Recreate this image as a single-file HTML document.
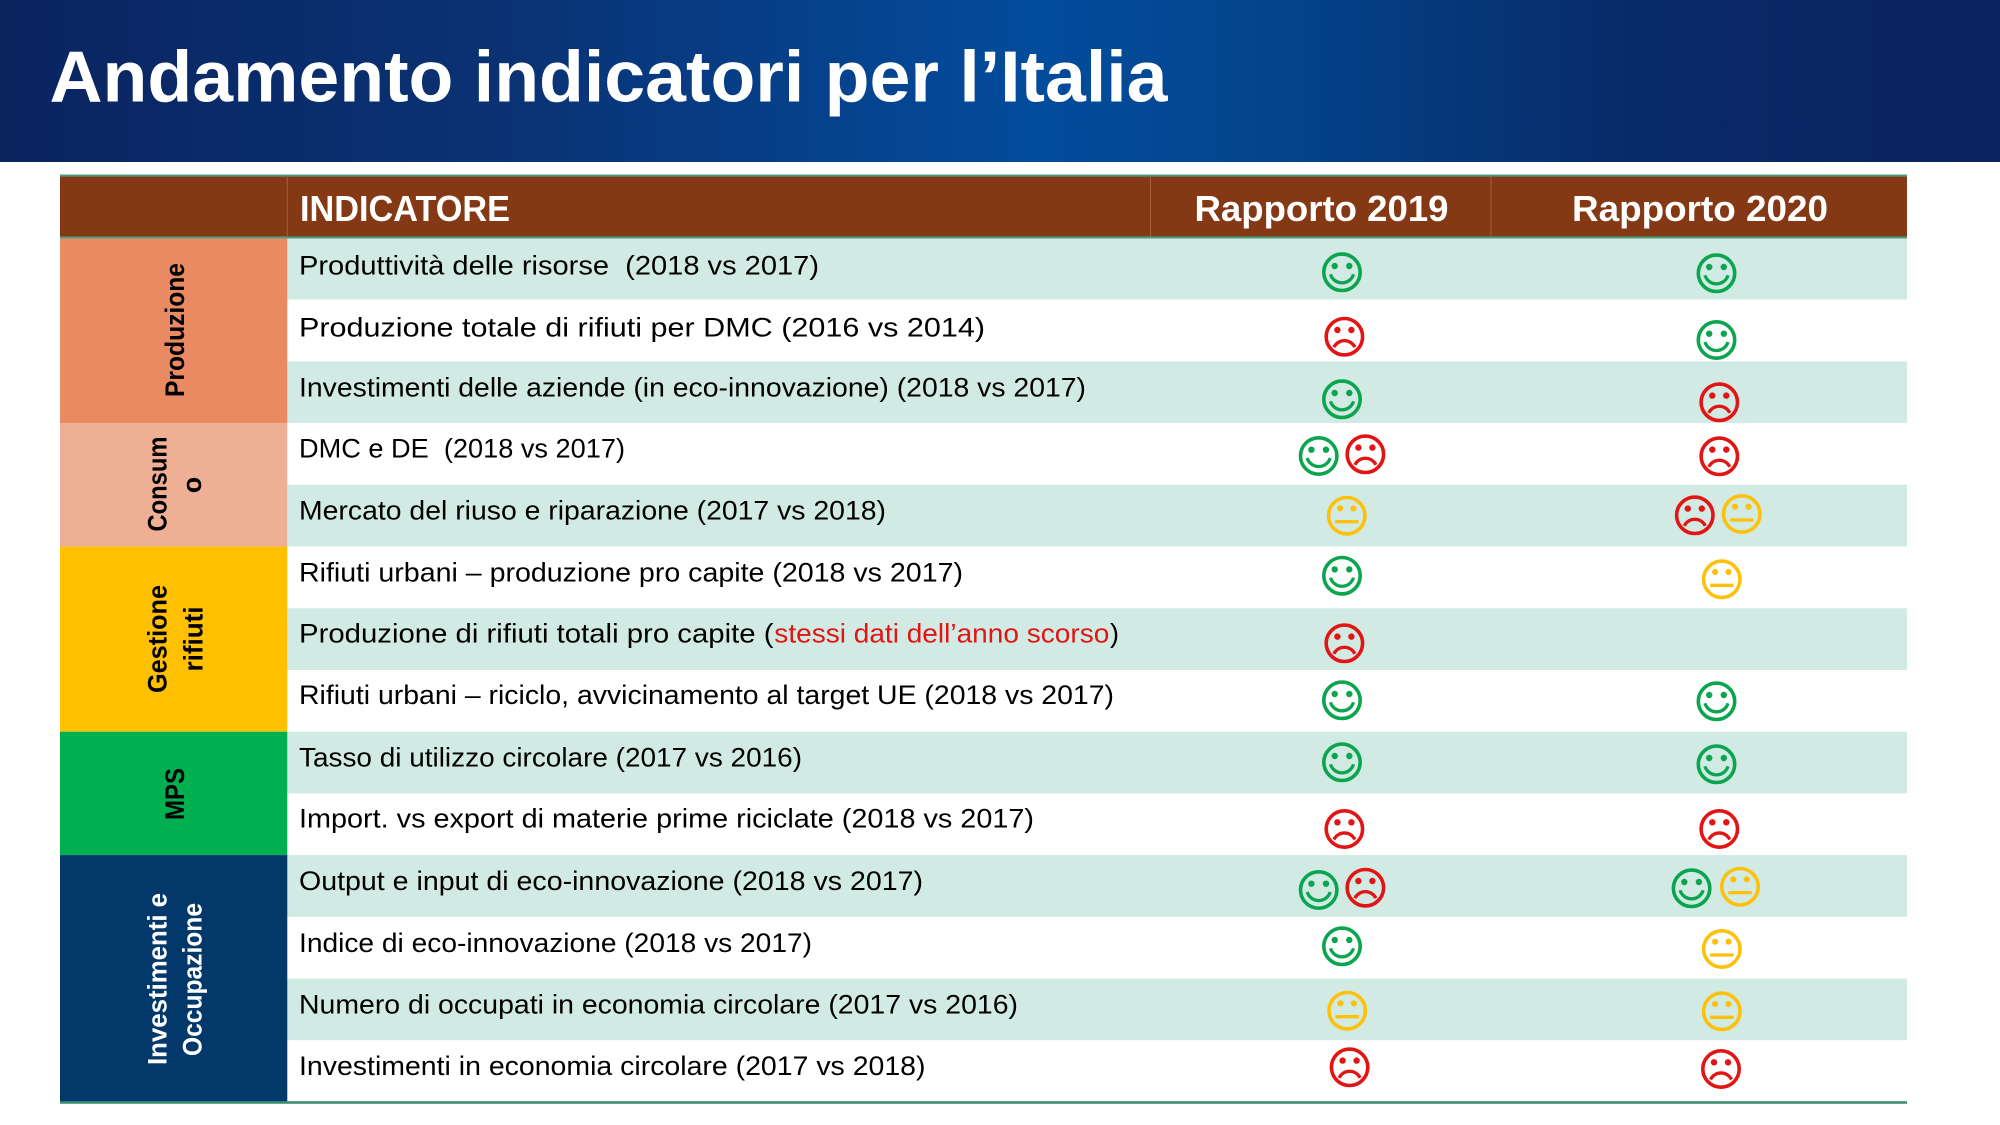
<!DOCTYPE html>
<html>
<head>
<meta charset="utf-8">
<style>
  html, body { margin: 0; padding: 0; background: #ffffff; }
  svg { display: block; }
  text { font-family: "Liberation Sans", sans-serif; white-space: pre; }
</style>
</head>
<body>
<svg width="2000" height="1125" viewBox="0 0 2000 1125" xmlns="http://www.w3.org/2000/svg">
  <defs>
    <linearGradient id="hdr" x1="0" y1="0" x2="1" y2="0">
      <stop offset="0" stop-color="#0a2460"/>
      <stop offset="0.25" stop-color="#0a3273"/>
      <stop offset="0.52" stop-color="#034c9c"/>
      <stop offset="0.62" stop-color="#03468f"/>
      <stop offset="0.82" stop-color="#082a67"/>
      <stop offset="1" stop-color="#0b2360"/>
    </linearGradient>
    <g id="happy">
      <circle cx="0" cy="0" r="18.2" fill="none" stroke="#0BA550" stroke-width="3.6"/>
      <circle cx="-7.3" cy="-6.3" r="3.2" fill="#0BA550"/>
      <circle cx="7.3" cy="-6.3" r="3.2" fill="#0BA550"/>
      <path d="M-11.5 2 A12 12 0 0 0 11.5 2" fill="none" stroke="#0BA550" stroke-width="3.3"/>
    </g>
    <g id="sad">
      <circle cx="0" cy="0" r="18.2" fill="none" stroke="#E31414" stroke-width="3.6"/>
      <circle cx="-7" cy="-6.7" r="3.2" fill="#E31414"/>
      <circle cx="7" cy="-6.7" r="3.2" fill="#E31414"/>
      <path d="M-10.5 10.5 A11.7 11.7 0 0 1 10.5 10.5" fill="none" stroke="#E31414" stroke-width="3.3"/>
    </g>
    <g id="neutral">
      <circle cx="0" cy="0" r="18.2" fill="none" stroke="#FDC10C" stroke-width="3.6"/>
      <circle cx="-6.7" cy="-7.3" r="3.1" fill="#FDC10C"/>
      <circle cx="6.7" cy="-7.3" r="3.1" fill="#FDC10C"/>
      <line x1="-11.7" y1="6" x2="11.7" y2="6" stroke="#FDC10C" stroke-width="3.3"/>
    </g>
  </defs>

  <!-- Title band -->
  <rect x="0" y="0" width="2000" height="162" fill="url(#hdr)"/>
  <text x="49.5" y="101.7" font-size="72" font-weight="bold" fill="#ffffff" textLength="1118" lengthAdjust="spacingAndGlyphs">Andamento indicatori per l’Italia</text>

  <!-- Table header -->
  <rect x="60" y="175" width="1847" height="63" fill="#843814"/>
  <rect x="60" y="174.5" width="1847" height="2.2" fill="#4f9a7c"/>
  <rect x="60" y="236.4" width="1847" height="2.2" fill="#4f9a7c"/>
  <line x1="287.3" y1="177" x2="287.3" y2="236.4" stroke="#a55e3e" stroke-width="1"/>
  <line x1="1150.5" y1="177" x2="1150.5" y2="236.4" stroke="#a55e3e" stroke-width="1"/>
  <line x1="1491" y1="177" x2="1491" y2="236.4" stroke="#a55e3e" stroke-width="1"/>
  <text x="300" y="221" font-size="36" font-weight="bold" fill="#ffffff" textLength="210" lengthAdjust="spacingAndGlyphs">INDICATORE</text>
  <text x="1194.5" y="221" font-size="36" font-weight="bold" fill="#ffffff" textLength="254" lengthAdjust="spacingAndGlyphs">Rapporto 2019</text>
  <text x="1572" y="221" font-size="36" font-weight="bold" fill="#ffffff" textLength="256" lengthAdjust="spacingAndGlyphs">Rapporto 2020</text>

  <!-- Row backgrounds -->
  <rect x="287.3" y="238.6" width="1619.7" height="61.1" fill="#D1EBE4"/>
  <rect x="287.3" y="299.7" width="1619.7" height="61.7" fill="#ffffff"/>
  <rect x="287.3" y="361.4" width="1619.7" height="61.7" fill="#D1EBE4"/>
  <rect x="287.3" y="423.1" width="1619.7" height="61.7" fill="#ffffff"/>
  <rect x="287.3" y="484.8" width="1619.7" height="61.8" fill="#D1EBE4"/>
  <rect x="287.3" y="546.6" width="1619.7" height="61.7" fill="#ffffff"/>
  <rect x="287.3" y="608.3" width="1619.7" height="61.7" fill="#D1EBE4"/>
  <rect x="287.3" y="670.0" width="1619.7" height="61.7" fill="#ffffff"/>
  <rect x="287.3" y="731.7" width="1619.7" height="61.7" fill="#D1EBE4"/>
  <rect x="287.3" y="793.4" width="1619.7" height="61.7" fill="#ffffff"/>
  <rect x="287.3" y="855.1" width="1619.7" height="61.8" fill="#D1EBE4"/>
  <rect x="287.3" y="916.9" width="1619.7" height="61.7" fill="#ffffff"/>
  <rect x="287.3" y="978.6" width="1619.7" height="61.7" fill="#D1EBE4"/>
  <rect x="287.3" y="1040.3" width="1619.7" height="61.9" fill="#ffffff"/>

  <!-- Category cells -->
  <rect x="60" y="238.6" width="227.3" height="184.5" fill="#E98A62"/>
  <rect x="60" y="423.1" width="227.3" height="123.5" fill="#EFAF94"/>
  <rect x="60" y="546.6" width="227.3" height="185.1" fill="#FFC000"/>
  <rect x="60" y="731.7" width="227.3" height="123.4" fill="#00B050"/>
  <rect x="60" y="855.1" width="227.3" height="247.1" fill="#03386A"/>

  <!-- Bottom line -->
  <rect x="60" y="1101.2" width="1847" height="2.6" fill="#3f8f75"/>

  <!-- Category labels (rotated) -->
  <text transform="translate(184,330) rotate(-90)" text-anchor="middle" font-size="27" font-weight="bold" fill="#000000" textLength="134" lengthAdjust="spacingAndGlyphs">Produzione</text>
  <text transform="translate(166.7,484) rotate(-90)" text-anchor="middle" font-size="27" font-weight="bold" fill="#000000" textLength="95" lengthAdjust="spacingAndGlyphs">Consum</text>
  <text transform="translate(201,485) rotate(-90)" text-anchor="middle" font-size="27" font-weight="bold" fill="#000000">o</text>
  <text transform="translate(166.7,639) rotate(-90)" text-anchor="middle" font-size="27" font-weight="bold" fill="#000000" textLength="108" lengthAdjust="spacingAndGlyphs">Gestione</text>
  <text transform="translate(202.5,639) rotate(-90)" text-anchor="middle" font-size="27" font-weight="bold" fill="#000000" textLength="65" lengthAdjust="spacingAndGlyphs">rifiuti</text>
  <text transform="translate(184,794) rotate(-90)" text-anchor="middle" font-size="27" font-weight="bold" fill="#000000" textLength="52" lengthAdjust="spacingAndGlyphs">MPS</text>
  <text transform="translate(166.7,979) rotate(-90)" text-anchor="middle" font-size="27" font-weight="bold" fill="#ffffff" textLength="172" lengthAdjust="spacingAndGlyphs">Investimenti e</text>
  <text transform="translate(201.5,979.5) rotate(-90)" text-anchor="middle" font-size="27" font-weight="bold" fill="#ffffff" textLength="153" lengthAdjust="spacingAndGlyphs">Occupazione</text>

  <!-- Row texts -->
  <g font-size="27" fill="#000000">
    <text x="299" y="274.3" textLength="520" lengthAdjust="spacingAndGlyphs">Produttività delle risorse  (2018 vs 2017)</text>
    <text x="299" y="336.7" textLength="686" lengthAdjust="spacingAndGlyphs">Produzione totale di rifiuti per DMC (2016 vs 2014)</text>
    <text x="299" y="396.3" textLength="787" lengthAdjust="spacingAndGlyphs">Investimenti delle aziende (in eco-innovazione) (2018 vs 2017)</text>
    <text x="299" y="457.7" textLength="326" lengthAdjust="spacingAndGlyphs">DMC e DE  (2018 vs 2017)</text>
    <text x="299" y="519.3" textLength="587" lengthAdjust="spacingAndGlyphs">Mercato del riuso e riparazione (2017 vs 2018)</text>
    <text x="299" y="581.5" textLength="664" lengthAdjust="spacingAndGlyphs">Rifiuti urbani – produzione pro capite (2018 vs 2017)</text>
    <text x="299" y="642.7" textLength="474.5" lengthAdjust="spacingAndGlyphs">Produzione di rifiuti totali pro capite (</text>
    <text x="774.3" y="642.7" fill="#E31414" textLength="335" lengthAdjust="spacingAndGlyphs">stessi dati dell’anno scorso</text>
    <text x="1110" y="642.7">)</text>
    <text x="299" y="704" textLength="815" lengthAdjust="spacingAndGlyphs">Rifiuti urbani – riciclo, avvicinamento al target UE (2018 vs 2017)</text>
    <text x="299" y="766.7" textLength="503" lengthAdjust="spacingAndGlyphs">Tasso di utilizzo circolare (2017 vs 2016)</text>
    <text x="299" y="827.5" textLength="735" lengthAdjust="spacingAndGlyphs">Import. vs export di materie prime riciclate (2018 vs 2017)</text>
    <text x="299" y="890" textLength="624" lengthAdjust="spacingAndGlyphs">Output e input di eco-innovazione (2018 vs 2017)</text>
    <text x="299" y="952" textLength="513" lengthAdjust="spacingAndGlyphs">Indice di eco-innovazione (2018 vs 2017)</text>
    <text x="299" y="1013.3" textLength="719" lengthAdjust="spacingAndGlyphs">Numero di occupati in economia circolare (2017 vs 2016)</text>
    <text x="299" y="1075" textLength="626.5" lengthAdjust="spacingAndGlyphs">Investimenti in economia circolare (2017 vs 2018)</text>
  </g>

  <!-- Icons -->
  <use href="#happy" transform="translate(1342,272.3)"/>
  <use href="#happy" transform="translate(1716.5,273.3)"/>

  <use href="#sad" transform="translate(1344.4,336.7)"/>
  <use href="#happy" transform="translate(1716.5,340)"/>

  <use href="#happy" transform="translate(1342,399.3)"/>
  <use href="#sad" transform="translate(1719.3,402.3)"/>

  <use href="#happy" transform="translate(1318.7,456)"/>
  <use href="#sad" transform="translate(1365.4,454.3)"/>
  <use href="#sad" transform="translate(1719.3,456.3)"/>

  <use href="#neutral" transform="translate(1346.8,515.7)"/>
  <use href="#sad" transform="translate(1694.8,515.3)"/>
  <use href="#neutral" transform="translate(1741.8,514)"/>

  <use href="#happy" transform="translate(1342,575.7)"/>
  <use href="#neutral" transform="translate(1721.8,579.3)"/>

  <use href="#sad" transform="translate(1344.4,643.3)"/>

  <use href="#happy" transform="translate(1342,700.3)"/>
  <use href="#happy" transform="translate(1716.5,701.3)"/>

  <use href="#happy" transform="translate(1342,762.3)"/>
  <use href="#happy" transform="translate(1716.5,764.3)"/>

  <use href="#sad" transform="translate(1344.4,829)"/>
  <use href="#sad" transform="translate(1719.3,829)"/>

  <use href="#happy" transform="translate(1318.7,890)"/>
  <use href="#sad" transform="translate(1365.4,887.7)"/>
  <use href="#happy" transform="translate(1691.6,888.3)"/>
  <use href="#neutral" transform="translate(1740,886.7)"/>

  <use href="#happy" transform="translate(1342,946.3)"/>
  <use href="#neutral" transform="translate(1721.8,949)"/>

  <use href="#neutral" transform="translate(1347.2,1010.7)"/>
  <use href="#neutral" transform="translate(1721.8,1011.3)"/>

  <use href="#sad" transform="translate(1349.6,1067.3)"/>
  <use href="#sad" transform="translate(1721,1069)"/>
</svg>
</body>
</html>
